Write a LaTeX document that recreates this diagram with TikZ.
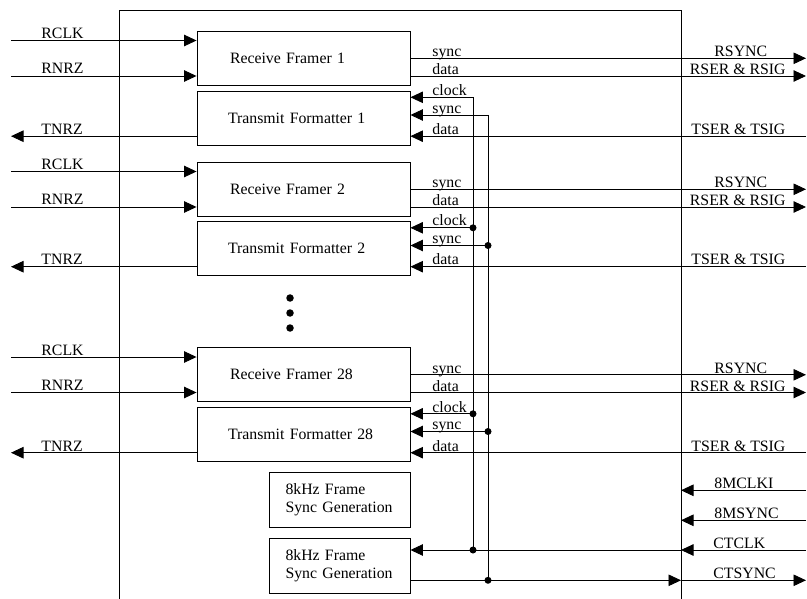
\documentclass[tikz,border=0pt]{standalone}
\usepackage{fontspec}
\setmainfont{Liberation Serif}
\usetikzlibrary{arrows.meta}
\begin{document}
\begin{tikzpicture}[x=1pt,y=-1pt,line width=0.9pt,
  every node/.style={font=\fontsize{15.8}{18.5}\selectfont},
  blk/.style={draw,line width=0.9pt,minimum height=54pt,inner ysep=0pt,align=left},
  rfbox/.style={blk,text width=147pt,inner xsep=33pt},
  tfbox/.style={blk,text width=151pt,inner xsep=31pt},
  fsbox/.style={blk,text width=108pt,inner xsep=16.5pt,minimum height=55pt},
  arr/.style={-{Triangle[length=12.5pt,width=11.5pt]}},
  lbl/.style={anchor=base west,inner sep=0pt},
  jdot/.style={circle,fill,inner sep=0pt,minimum size=7pt},
  edot/.style={circle,fill,inner sep=0pt,minimum size=7.5pt}]
\useasboundingbox (0,0) rectangle (807,599);
% outer frame (open at bottom)
\coordinate (frBL) at (119,599);
\coordinate (frTL) at (119,10);
\coordinate (frTR) at (681,10);
\coordinate (frBR) at (681,599);
\draw (frBL) -- (frTL) -- (frTR) -- (frBR);
% bus coordinates
\coordinate (clkbus) at (473,0);
\coordinate (syncbus) at (488,0);
% groups
\foreach \g/\ry/\ty in {1/58/118,2/189/248.5,28/374.5/434.5}{
  \node[rfbox] (rf\g) at (303.5,\ry) {Receive Framer \g};
  \node[tfbox] (tf\g) at (303.5,\ty) {Transmit Formatter \g};
  % left side
  \coordinate (rclk\g) at (11,\ry-17.5);
  \coordinate (rnrz\g) at (11,\ry+18);
  \coordinate (tnrz\g) at (11,\ty+18.2);
  \draw[arr] (rclk\g) -- (rclk\g -| rf\g.west);
  \draw[arr] (rnrz\g) -- (rnrz\g -| rf\g.west);
  \draw[arr] (tnrz\g -| tf\g.west) -- (tnrz\g);
  \node[lbl] (lrclk\g) at (41,\ry-19.5) {RCLK};
  \node[lbl] (lrnrz\g) at (41,\ry+16) {RNRZ};
  \node[lbl] (ltnrz\g) at (41,\ty+16.5) {TNRZ};
  % right side receive
  \coordinate (rsync\g) at (806,\ry+0.3);
  \coordinate (rdata\g) at (806,\ry+18);
  \draw[arr] (rsync\g -| rf\g.east) -- (rsync\g);
  \draw[arr] (rdata\g -| rf\g.east) -- (rdata\g);
  \node[lbl] (lsync\g) at (432,\ry-1.2) {sync};
  \node[lbl] (ldata\g) at (432,\ry+16.5) {data};
  \node[lbl] (lrsync\g) at (714,\ry-1.2) {RSYNC};
  \node[lbl] (lrser\g) at (689.5,\ry+16.5) {RSER \& RSIG};
  % right side transmit
  \coordinate (tclk\g) at (473,\ty-20.7);
  \coordinate (tsync\g) at (488,\ty-3);
  \coordinate (tdata\g) at (806,\ty+18.2);
  \draw[arr] (tclk\g) -- (tclk\g -| tf\g.east);
  \draw[arr] (tsync\g) -- (tsync\g -| tf\g.east);
  \draw[arr] (tdata\g) -- (tdata\g -| tf\g.east);
  \node[lbl] (ltclk\g) at (432,\ty-22.5) {clock};
  \node[lbl] (ltsync\g) at (432,\ty-4.8) {sync};
  \node[lbl] (ltdata\g) at (432,\ty+16.5) {data};
  \node[lbl] (ltser\g) at (691,\ty+16.5) {TSER \& TSIG};
}
% junction dots on buses
\node[jdot] (jc2) at (tclk2) {};
\node[jdot] (js2) at (tsync2) {};
\node[jdot] (jc28) at (tclk28) {};
\node[jdot] (js28) at (tsync28) {};
% ellipsis
\node[edot] (el1) at (290,298) {};
\node[edot] (el2) at (290,313) {};
\node[edot] (el3) at (290,328) {};
% frame sync generators
\node[fsbox] (fs1) at (339.5,499.5) {8kHz Frame\\Sync Generation};
\node[fsbox] (fs2) at (339.5,565.5) {8kHz Frame\\Sync Generation};
% bottom signals
\coordinate (mclk) at (806,490.3);
\coordinate (msync) at (806,520.3);
\coordinate (ctclk) at (806,550);
\coordinate (ctsync) at (806,580.3);
\draw[arr] (mclk) -- (mclk -| frTR);
\draw[arr] (msync) -- (msync -| frTR);
\draw[arr] (ctclk) -- (ctclk -| frTR);
\draw[arr] (ctclk -| frTR) -- (ctclk -| fs2.east);
\draw[arr] (ctsync -| fs2.east) -- (ctsync -| frTR);
\draw[arr] (ctsync -| frTR) -- (ctsync);
\node[lbl] (l8mclk) at (714,488.5) {8MCLKI};
\node[lbl] (l8msync) at (714,518.5) {8MSYNC};
\node[lbl] (lctclk) at (713,548.2) {CTCLK};
\node[lbl] (lctsync) at (713,578.5) {CTSYNC};
% vertical buses
\coordinate (clkbot) at (ctclk -| clkbus);
\coordinate (syncbot) at (ctsync -| syncbus);
\draw (tclk1) -- (clkbot);
\draw (tsync1) -- (syncbot);
\node[jdot] (jcb) at (clkbot) {};
\node[jdot] (jsb) at (syncbot) {};
\end{tikzpicture}
\end{document}
